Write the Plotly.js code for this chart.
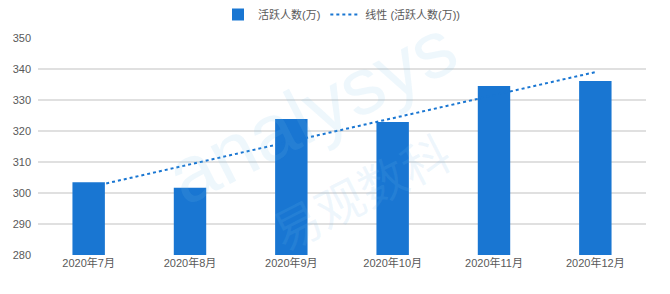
<!DOCTYPE html>
<html><head><meta charset="utf-8">
<script src="https://cdn.plot.ly/plotly-3.0.1.min.js"></script>
<style>body{margin:0;background:#fff}#c{width:670px;height:294px}</style>
</head><body><div id="c"></div>
<script>
const categories = ['2020年7月','2020年8月','2020年9月','2020年10月','2020年11月','2020年12月'];
const activeUsers = [303.5, 301.7, 323.9, 322.9, 334.5, 336.1];
const trendCats = ['2020年7月','2020年12月'];
const trendVals = [301.8, 339.0];
const yTicks = [280,290,300,310,320,330,340,350];

const font = {family:'"Liberation Sans", Arial, "Noto Sans CJK SC", sans-serif', size:11, color:'#595959'};
const data = [
  {type:'scatter', mode:'lines', x:trendCats, y:trendVals, name:'线性 (活跃人数(万))',
   line:{color:'#1976d2', width:2, dash:'dot'}, legendrank:2, hoverinfo:'skip'},
  {type:'bar', x:categories, y:activeUsers, name:'活跃人数(万)',
   marker:{color:'#1976d2'}, legendrank:1}
];
const layout = {
  width:670, height:294,
  margin:{l:38, r:24, t:38, b:39},
  paper_bgcolor:'#fff', plot_bgcolor:'rgba(0,0,0,0)',
  font:font,
  bargap:0.68,
  showlegend:true,
  legend:{orientation:'h', x:0.5, xanchor:'center', y:1.0, yanchor:'top', yref:'container', font:font, itemwidth:30, tracegroupgap:0, traceorder:'normal'},
  xaxis:{type:'category', categoryorder:'array', categoryarray:categories, showgrid:false, showline:false, zeroline:false, ticks:'', tickfont:font},
  yaxis:{range:[280,350], tickvals:yTicks, showgrid:true, gridcolor:'#e0e0e0', gridwidth:1.5, zeroline:false, showline:false, ticks:'', tickfont:font, ticklabelstandoff:6},
  annotations:[
    {text:'analysys', xref:'paper', yref:'paper', x:0.45, y:0.66, xanchor:'center', yanchor:'middle', showarrow:false, textangle:-27,
     font:{family:'"Liberation Sans", Arial, sans-serif', size:80, color:'rgba(120,190,235,0.13)'}},
    {text:'易观数科', xref:'paper', yref:'paper', x:0.53, y:0.3, xanchor:'center', yanchor:'middle', showarrow:false, textangle:-27,
     font:{family:'"Noto Sans CJK SC", sans-serif', size:48, color:'rgba(120,190,235,0.13)'}}
  ]
};
Plotly.newPlot('c', data, layout, {displayModeBar:false, staticPlot:true});
</script></body></html>
